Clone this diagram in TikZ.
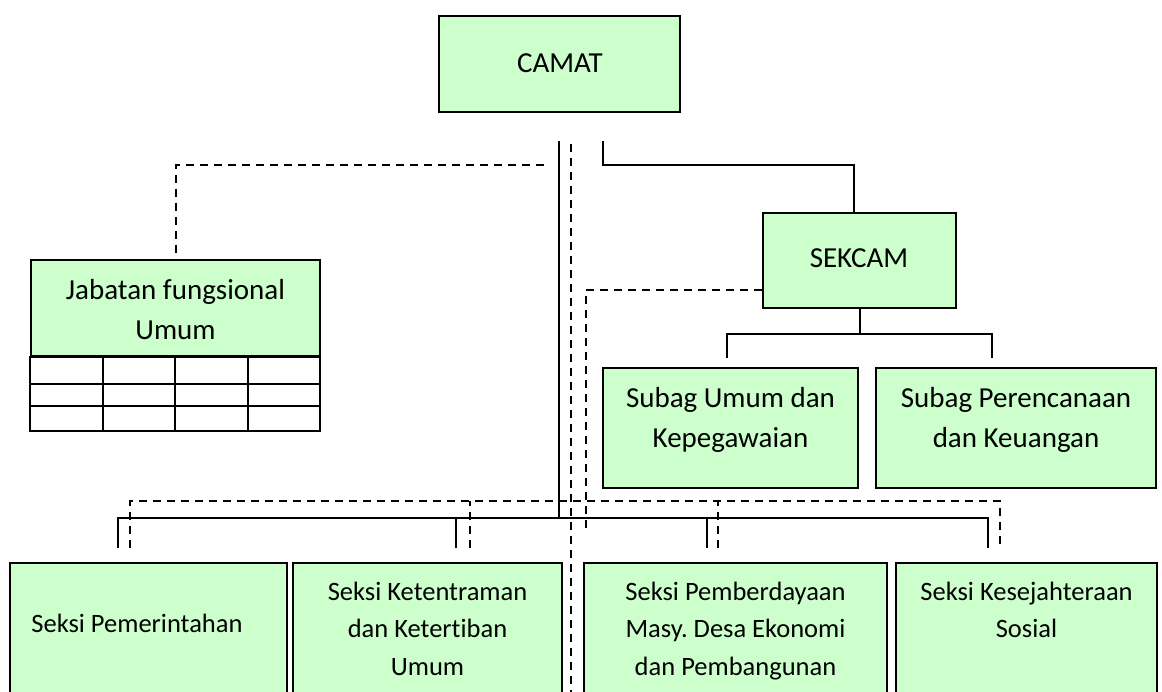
\documentclass[tikz,border=0pt]{standalone}
\usepackage{fontspec}
\setmainfont{Carlito}[Ligatures={NoCommon,NoRare}]
\usetikzlibrary{calc}
\definecolor{boxgreen}{HTML}{CCFFCC}
\frenchspacing
\begin{document}
\begin{tikzpicture}[x=0.5pt,y=-0.5pt,
  box/.style={draw=black, line width=1pt, fill=boxgreen, inner sep=0pt},
  conn/.style={draw=black, line width=1pt},
  dconn/.style={draw=black, line width=1pt, dash pattern=on 4pt off 3pt},
  bigtxt/.style={font=\fontsize{14.5pt}{20pt}\selectfont, align=center, inner sep=0pt},
  smalltxt/.style={font=\fontsize{13.25pt}{18.75pt}\selectfont, align=center, inner sep=0pt}]
\clip (0,0) rectangle (1162,691);
\fill[white] (0,0) rectangle (1162,691);
% boxes
\node[box, minimum width=120.5pt, minimum height=48pt] (camat) at (559.5,64) {};
\node[box, minimum width=144.5pt, minimum height=48pt] (jab) at (175.5,308) {};
\node[box, minimum width=96.5pt, minimum height=47.5pt] (sekcam) at (859.5,260.5) {};
\node[box, minimum width=127.5pt, minimum height=60pt] (subU) at (730.5,428) {};
\node[box, minimum width=140pt, minimum height=60pt] (subP) at (1016,428) {};
\node[box, minimum width=138.5pt, minimum height=78.5pt] (sek1) at (148.5,641.5) {};
\node[box, minimum width=134.5pt, minimum height=78.5pt] (sek2) at (427.5,641.5) {};
\node[box, minimum width=151.5pt, minimum height=78.5pt] (sek3) at (735.5,641.5) {};
\node[box, minimum width=130.5pt, minimum height=78.5pt] (sek4) at (1026.5,641.5) {};
% texts
\node[bigtxt, anchor=base] (camatT) at (560,72) {CAMAT};
\node[bigtxt, anchor=base] (sekcamT) at (859,267) {SEKCAM};
\node[bigtxt] (jabT) at (175.5,309.5) {Jabatan fungsional\\Umum};
\node[bigtxt] (subUT) at (730.5,420) {Subag Umum dan\\Kepegawaian};
\node[bigtxt] (subPT) at (1016,420) {Subag Perencanaan\\dan Keuangan};
\node[smalltxt, anchor=base west] (sek1T) at (31,632) {Seksi Pemerintahan};
\node[smalltxt] (sek2T) at (427.5,628.5) {Seksi Ketentraman\\dan Ketertiban\\Umum};
\node[smalltxt] (sek3T) at (735.5,631) {Seksi Pemberdayaan\\Masy. Desa Ekonomi\\dan Pembangunan};
\node[smalltxt] (sek4T) at (1026.5,610) {Seksi Kesejahteraan\\Sosial};
% table under Jabatan
\draw[conn] (jab.south west) rectangle (320,431);
\draw[conn] (31,384) -- (320,384);
\draw[conn] (31,406) -- (320,406);
\foreach \cx in {103,175,248} \draw[conn] (\cx,356) -- (\cx,431);
% main lines
\coordinate (mainTop) at (559,141);
\coordinate (mainBot) at (559,518);
\draw[conn] (mainTop) -- (mainBot);
\coordinate (dashTop) at (571,144);
\coordinate (dashBot) at (571,700);
\draw[dconn] (dashTop) -- (dashBot);
% to Jabatan
\coordinate (jabEnd) at (544,165);
\draw[dconn] (jabEnd) -| (jab.north);
% to SEKCAM
\coordinate (sekTop) at (603,141);
\coordinate (sekCorner) at (854,165);
\draw[conn] (sekTop) |- (sekCorner) -- (sekCorner |- sekcam.north);
\coordinate (sekDashEnd) at (586,530);
\draw[dconn] ($(sekcam.west)+(0,29.5)$) -| (sekDashEnd);
% SEKCAM to subag
\draw[conn] (sekcam.south) -- ++(0,26);
\coordinate (subUtop) at (727,358);
\coordinate (subPtop) at (992,358);
\draw[conn] (subUtop) -- ++(0,-24) -| (subPtop);
% bottom solid bracket
\coordinate (s1) at (118,548);
\coordinate (s2) at (456,548);
\coordinate (s3) at (707,548);
\coordinate (s4) at (988,548);
\draw[conn] (s1) -- ++(0,-30) -| (s4);
\draw[conn] (s2) -- ++(0,-30);
\draw[conn] (s3) -- ++(0,-30);
% bottom dashed bracket
\coordinate (d1) at (130,548);
\coordinate (d2) at (470,548);
\coordinate (d3) at (718,548);
\coordinate (d4) at (1000,548);
\draw[dconn] (d1) -- ++(0,-47) -| (d4);
\draw[dconn] (d2) -- ++(0,-47);
\draw[dconn] (d3) -- ++(0,-47);
\end{tikzpicture}
\end{document}
